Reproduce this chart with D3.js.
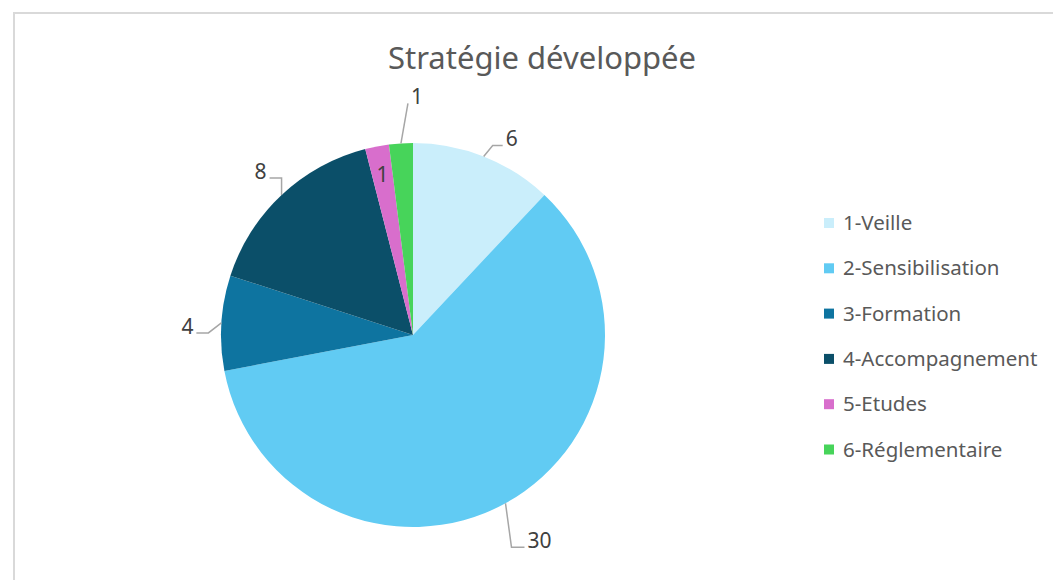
<!DOCTYPE html>
<html>
<head>
<meta charset="utf-8">
<script src="https://cdn.jsdelivr.net/npm/d3@7"></script>
<style>
  html, body { margin: 0; padding: 0; background: #fff; }
  svg { display: block; font-family: "Noto Sans", "Open Sans", sans-serif; }
</style>
</head>
<body>
<svg id="chart" width="1053" height="580"></svg>
<script>
// Data
const categories = ["1-Veille", "2-Sensibilisation", "3-Formation", "4-Accompagnement", "5-Etudes", "6-Réglementaire"];
const values = [6, 30, 4, 8, 1, 1];
const colors = ["#caeefb", "#61cbf3", "#0e74a0", "#0b4f69", "#d86ecc", "#47d45a"];
const title = "Stratégie développée";

// Label placement: leader elbow offset from slice edge, horizontal arm length
// (null = label drawn inside the slice)
const labelLayout = [
  { elbow: [9, -11], arm: 10 },
  { elbow: [6, 44], arm: 13 },
  { elbow: [-13, 10], arm: -12 },
  { elbow: [0, -17], arm: -12 },
  null,
  { elbow: [7, -40], arm: 0 },
];

const W = 1053, H = 580;
const cx = 413, cy = 335, R = 192;

const svg = d3.select("#chart");

// Chart area border (only top and left visible in frame)
svg.append("rect")
  .attr("x", 14).attr("y", 13)
  .attr("width", W + 20).attr("height", H + 20)
  .attr("fill", "#fff")
  .attr("stroke", "#d9d9d9")
  .attr("stroke-width", 2);

// Title
svg.append("text")
  .attr("x", 542).attr("y", 69)
  .attr("text-anchor", "middle")
  .attr("fill", "#595959")
  .style("font-size", "31px")
  .text(title);

const pie = d3.pie().sort(null).value((d) => d);
const arcs = pie(values);
const arc = d3.arc().innerRadius(0).outerRadius(R);

const g = svg.append("g").attr("transform", `translate(${cx},${cy})`);

g.selectAll("path.slice")
  .data(arcs)
  .join("path")
  .attr("class", "slice")
  .attr("d", arc)
  .attr("fill", (d, i) => colors[i]);

// Data labels
const edgeArc = d3.arc().innerRadius(R).outerRadius(R);
const insideArc = d3.arc().innerRadius(163 * 2 - R).outerRadius(R);

arcs.forEach((d, i) => {
  const lay = labelLayout[i];
  if (!lay) {
    const [x, y] = insideArc.centroid(d);
    g.append("text")
      .attr("x", x).attr("y", y)
      .attr("dy", "0.35em")
      .attr("text-anchor", "middle")
      .attr("fill", "#404040")
      .style("font-size", "21px")
      .text(d.data);
    return;
  }
  const mid = (d.startAngle + d.endAngle) / 2;
  const ax = R * Math.sin(mid), ay = -R * Math.cos(mid);
  const ex = ax + lay.elbow[0], ey = ay + lay.elbow[1];
  const tx = ex + lay.arm;
  g.append("polyline")
    .attr("points", [[ax, ay], [ex, ey], [tx, ey]].map((p) => p.join(",")).join(" "))
    .attr("fill", "none")
    .attr("stroke", "#a6a6a6")
    .attr("stroke-width", 1.5);
  const right = lay.arm >= 0;
  g.append("text")
    .attr("x", tx + (right ? 3 : -3))
    .attr("y", ey + 1)
    .attr("text-anchor", right ? "start" : "end")
    .attr("fill", "#404040")
    .style("font-size", "21px")
    .text(d.data);
});

// Legend
const legend = svg.append("g").attr("transform", "translate(824,223)");
const rows = legend.selectAll("g")
  .data(categories)
  .join("g")
  .attr("transform", (d, i) => `translate(0,${i * 45.3})`);
rows.append("rect")
  .attr("x", 0).attr("y", -5)
  .attr("width", 10).attr("height", 10)
  .attr("fill", (d, i) => colors[i]);
rows.append("text")
  .attr("x", 19).attr("y", 0)
  .attr("dy", "0.35em")
  .attr("fill", "#595959")
  .style("font-size", "20.5px")
  .text((d) => d);
</script>
</body>
</html>
